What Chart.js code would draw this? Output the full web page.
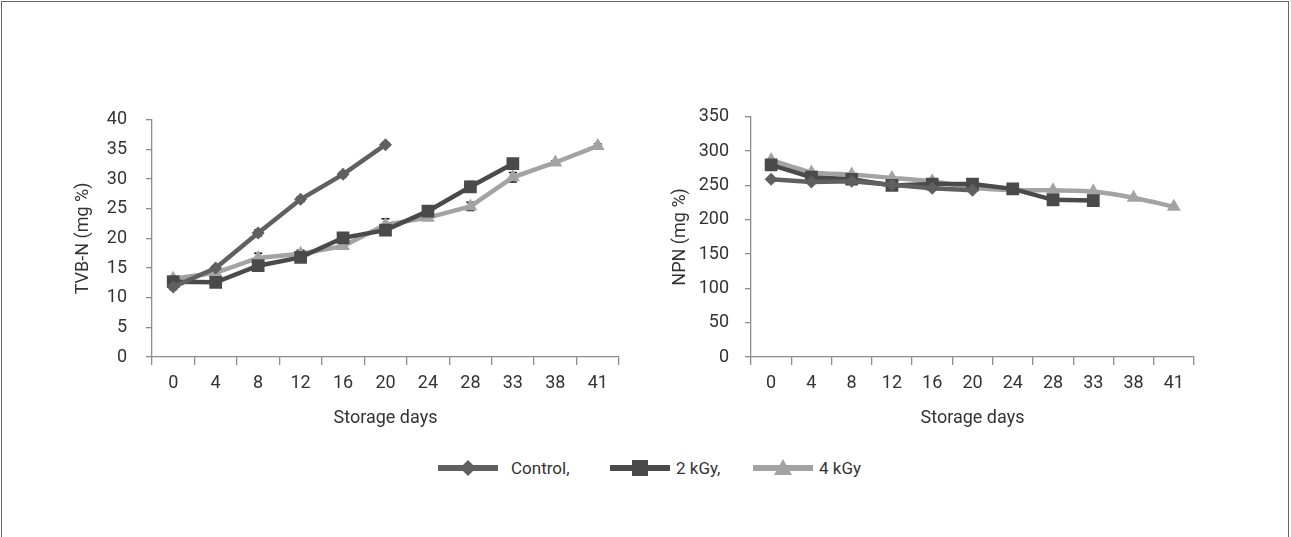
<!DOCTYPE html>
<html>
<head>
<meta charset="utf-8">
<script src="https://cdn.jsdelivr.net/npm/chart.js@4.4.1/dist/chart.umd.min.js"></script>
<style>
  html, body { margin: 0; padding: 0; background: #fff; }
  body { width: 1291px; height: 537px; position: relative; overflow: hidden; font-family: Roboto, "Noto Sans", sans-serif; }
  .frame { position: absolute; left: 1px; top: 1px; width: 1288px; height: 540px; border: 1px solid #666; box-sizing: border-box; }
  .box { position: absolute; }
  #legend { position: absolute; top: 457px; left: 0; width: 1291px; height: 22px; }
  .item { position: absolute; top: 0; height: 22px; display: flex; align-items: center; font-size: 17px; color: #333; }
  .item svg { margin-right: 13px; }
</style>
</head>
<body>
<div class="frame"></div>
<div class="box" style="left:60px; top:90px; width:580px; height:350px;"><canvas id="tvbn"></canvas></div>
<div class="box" style="left:650px; top:90px; width:570px; height:350px;"><canvas id="npn"></canvas></div>
<div id="legend"></div>
<script>
const days = ['0', '4', '8', '12', '16', '20', '24', '28', '33', '38', '41'];
const seriesNames = ['Control,', '2 kGy,', '4 kGy'];

// TVB-N (mg %)
const tvbnControl = [11.8, 15.0, 20.9, 26.6, 30.8, 35.8, null, null, null, null, null];
const tvbn2kGy = [12.7, 12.6, 15.4, 16.8, 20.1, 21.4, 24.6, 28.7, 32.6, null, null];
const tvbn4kGy = [13.2, 14.2, 16.7, 17.4, 18.7, 22.3, 23.5, 25.4, 30.3, 32.8, 35.6];
const tvbnErrControl = [0.4, 0.4, 0.5, 0.4, 0.4, 0.3, 0, 0, 0, 0, 0];
const tvbnErr2kGy = [0.3, 0.3, 0.4, 0.4, 0.3, 0.6, 0.9, 0.9, 0.5, 0, 0];
const tvbnErr4kGy = [0.3, 0.4, 0.8, 0.6, 0.3, 1.0, 0.4, 0.7, 0.8, 0.3, 0.3];
const tvbnTicks = [0, 5, 10, 15, 20, 25, 30, 35, 40];

// NPN (mg %)
const npnControl = [259, 255, 256, 251, 246, 243, null, null, null, null, null];
const npn2kGy = [280, 262, 259, 250, 252, 252, 245, 229, 228, null, null];
const npn4kGy = [287, 269, 266, 261, 256, 247, 243, 243, 241, 232, 219];
const npnTicks = [0, 50, 100, 150, 200, 250, 300, 350];

const colors = ['#606060', '#4a4a4a', '#a3a3a3'];
const shapes = ['rectRot', 'rect', 'triangle'];
const radii = [6.5, 9, 8];
const axisColor = '#8c8c8c';
const textColor = '#333';
const fontFamily = 'Roboto, "Noto Sans", sans-serif';
const fontSize = 18;

const errorBars = {
    id: 'errorBars',
    beforeDatasetsDraw(chart) {
        const { ctx, scales: { y } } = chart;
        chart.data.datasets.forEach((ds, i) => {
            if (!ds.errors) return;
            const meta = chart.getDatasetMeta(i);
            meta.data.forEach((pt, j) => {
                const v = ds.data[j];
                const e = ds.errors[j];
                if (v == null || !e) return;
                const top = y.getPixelForValue(v + e);
                const bottom = y.getPixelForValue(v - e);
                ctx.save();
                ctx.strokeStyle = '#111';
                ctx.lineWidth = 1.5;
                ctx.beginPath();
                ctx.moveTo(pt.x, top); ctx.lineTo(pt.x, bottom);
                ctx.moveTo(pt.x - 4, top); ctx.lineTo(pt.x + 4, top);
                ctx.moveTo(pt.x - 4, bottom); ctx.lineTo(pt.x + 4, bottom);
                ctx.stroke();
                ctx.restore();
            });
        });
    }
};

function makeDatasets(values, errors) {
    return values.map((data, i) => ({
        label: seriesNames[i],
        data: data,
        errors: errors ? errors[i] : null,
        borderColor: colors[i],
        backgroundColor: colors[i],
        pointBackgroundColor: colors[i],
        pointBorderColor: colors[i],
        pointBorderWidth: 0,
        borderWidth: 4.5,
        pointStyle: shapes[i],
        pointRadius: radii[i],
        pointHoverRadius: radii[i],
        tension: i === 2 && !errors ? 0.15 : 0,
        spanGaps: false,
    }));
}

function makeChart(id, datasets, cfg) {
    const ctx = document.getElementById(id).getContext('2d');
    const font = { family: fontFamily, size: fontSize };
    return new Chart(ctx, {
        type: 'line',
        data: { labels: days, datasets: datasets },
        plugins: cfg.plugins || [],
        options: {
            responsive: true,
            maintainAspectRatio: false,
            animation: false,
            events: [],
            layout: { padding: { left: 0, right: cfg.padRight, top: 22, bottom: 0 } },
            plugins: { legend: { display: false }, tooltip: { enabled: false } },
            scales: {
                x: {
                    type: 'category',
                    offset: true,
                    afterFit: s => { s.height = 83; },
                    grid: { offset: true, drawOnChartArea: false, drawTicks: true, tickLength: 8, color: axisColor, lineWidth: 1.3 },
                    border: { color: axisColor, width: 1.3 },
                    ticks: { color: textColor, padding: 8, font: font, maxRotation: 0, autoSkip: false },
                    title: { display: true, text: 'Storage days', color: textColor, padding: { top: 0, bottom: 11 }, font: font }
                },
                y: {
                    min: 0,
                    max: cfg.ticks[cfg.ticks.length - 1],
                    afterFit: s => { s.width = cfg.yWidth; },
                    afterBuildTicks: s => { s.ticks = cfg.ticks.map(v => ({ value: v })); },
                    grid: { drawOnChartArea: false, drawTicks: true, tickLength: 6, color: axisColor, lineWidth: 1.3 },
                    border: { color: axisColor, width: 1.3 },
                    ticks: { color: textColor, padding: cfg.tickPad, font: font },
                    title: { display: true, text: cfg.yTitle, color: textColor, padding: { top: cfg.titlePad, bottom: 0 }, font: font }
                }
            }
        }
    });
}

makeChart('tvbn',
    makeDatasets([tvbnControl, tvbn2kGy, tvbn4kGy], [tvbnErrControl, tvbnErr2kGy, tvbnErr4kGy]),
    { ticks: tvbnTicks, yTitle: 'TVB-N (mg %)', yWidth: 92, padRight: 21, tickPad: 19, titlePad: 13, plugins: [errorBars] });

makeChart('npn',
    makeDatasets([npnControl, npn2kGy, npn4kGy], null),
    { ticks: npnTicks, yTitle: 'NPN (mg %)', yWidth: 101, padRight: 26, tickPad: 16, titlePad: 20 });

// shared legend
function legendIcon(i) {
    const c = colors[i];
    let marker;
    if (shapes[i] === 'rectRot') marker = `<polygon points="30,2 38,10 30,18 22,10" fill="${c}"/>`;
    else if (shapes[i] === 'rect') marker = `<rect x="22" y="2" width="16" height="16" fill="${c}"/>`;
    else marker = `<polygon points="30,1 39,17 21,17" fill="${c}"/>`;
    return `<svg width="60" height="20" viewBox="0 0 60 20"><line x1="0" y1="10" x2="60" y2="10" stroke="${c}" stroke-width="6"/>${marker}</svg>`;
}
const legendLeft = [438, 610, 753];
const legend = document.getElementById('legend');
seriesNames.forEach((name, i) => {
    const item = document.createElement('div');
    item.className = 'item';
    item.style.left = legendLeft[i] + 'px';
    item.innerHTML = legendIcon(i) + `<span>${name}</span>`;
    if (i > 0) item.querySelector('svg').style.marginRight = '6px';
    legend.appendChild(item);
});
</script>
</body>
</html>
